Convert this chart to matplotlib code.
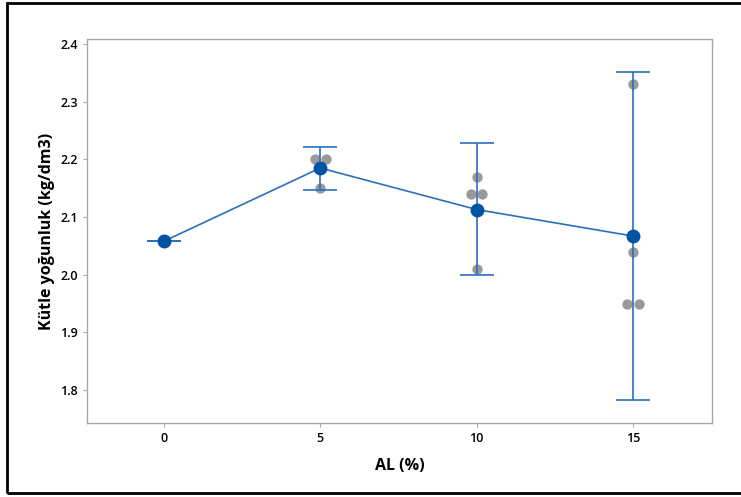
import numpy as np
import matplotlib
matplotlib.use('Agg')
import matplotlib.pyplot as plt
from matplotlib.patches import Rectangle

# ── Data ─────────────────────────────────────────────────────────────────────
al_pct = [0, 5, 10, 15]
mean_density = [2.058, 2.185, 2.113, 2.067]
ci_lower = [2.058, 2.146, 2.000, 1.782]
ci_upper = [2.058, 2.221, 2.228, 2.352]

# individual observations per group
obs_x = [0, 5, 5, 5, 10, 10, 10, 10, 15, 15, 15, 15]
obs_y = [2.058, 2.20, 2.20, 2.15, 2.17, 2.14, 2.14, 2.01, 2.33, 2.04, 1.95, 1.95]

BLUE = '#0054a6'
BAR_BLUE = '#2a6fbd'
GREY = '#999999'

plt.rcParams['font.family'] = ['Open Sans', 'DejaVu Sans']

fig = plt.figure(figsize=(7.41, 4.97), dpi=100)
ax = fig.add_axes([87 / 741, 1 - 423 / 497, 625 / 741, 384 / 497])

# outer frame around the whole chart
fig.patches.append(Rectangle((7 / 741, 4 / 497), 1.2, 490 / 497,
                             transform=fig.transFigure, fill=False,
                             lw=2, ec='black'))

# jitter duplicated observations side by side
jx = []
seen = {}
for x, y in zip(obs_x, obs_y):
    n_dup = sum(1 for a, b in zip(obs_x, obs_y) if a == x and b == y)
    k = seen.get((x, y), 0)
    seen[(x, y)] = k + 1
    off = 0.0 if n_dup == 1 else (k - (n_dup - 1) / 2) * 0.36
    jx.append(x + off)
ax.scatter(jx, obs_y, s=55, color=GREY, zorder=2, linewidths=0)

# interval bars
m = np.array(mean_density)
yerr = [m - np.array(ci_lower), np.array(ci_upper) - m]
ax.errorbar(al_pct, mean_density, yerr=yerr, fmt='none', ecolor=BAR_BLUE,
            elinewidth=1.2, capsize=12, capthick=1.2, zorder=3)
ax.plot(al_pct, mean_density, color=BAR_BLUE, lw=1.2, zorder=3)
ax.plot(al_pct, mean_density, 'o', color=BLUE, ms=9, zorder=4)

ax.set_xlim(-2.46, 17.53)
ax.set_ylim(1.7428, 2.4087)
ax.set_xticks(al_pct)
ax.set_yticks([1.8, 1.9, 2.0, 2.1, 2.2, 2.3, 2.4])
ax.set_yticklabels(['1.8', '1.9', '2.0', '2.1', '2.2', '2.3', '2.4'])

for s in ax.spines.values():
    s.set_color('#a6a6a6')
    s.set_linewidth(1.0)
ax.tick_params(axis='both', colors='#a6a6a6', length=3, width=0.8,
               labelcolor='black', labelsize=9)
for lab in ax.get_xticklabels() + ax.get_yticklabels():
    lab.set_fontweight('semibold')

ax.set_xlabel('AL (%)', fontsize=11.5, fontweight='bold', labelpad=9)
ax.set_ylabel('Kütle yoğunluk (kg/dm3)', fontsize=11.5, fontweight='bold',
              labelpad=4)

fig.savefig('out.png', dpi=100)
